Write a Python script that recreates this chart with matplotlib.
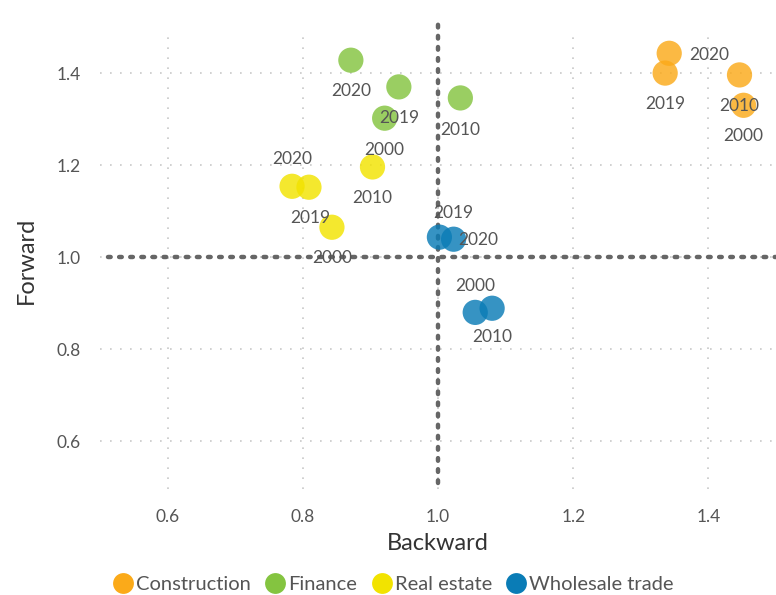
import matplotlib
matplotlib.use("Agg")
import matplotlib.pyplot as plt
from matplotlib.lines import Line2D

plt.rcParams['font.family'] = ['Lato', 'DejaVu Sans']

sectors = ["Construction", "Finance", "Real estate", "Wholesale trade"]
colors = ["#FBAA19", "#84C440", "#F2E300", "#0A7CB6"]
years = ["2000", "2010", "2019", "2020"]

backward = {
    "Construction": [1.452, 1.446, 1.336, 1.342],
    "Finance": [0.921, 1.033, 0.942, 0.871],
    "Real estate": [0.843, 0.903, 0.809, 0.784],
    "Wholesale trade": [1.055, 1.080, 1.002, 1.023],
}
forward = {
    "Construction": [1.330, 1.396, 1.400, 1.443],
    "Finance": [1.302, 1.346, 1.370, 1.428],
    "Real estate": [1.065, 1.196, 1.152, 1.154],
    "Wholesale trade": [0.880, 0.889, 1.0435, 1.039],
}
# label offsets in pixels (dx, dy) per sector / year
offsets = {
    "Construction": [(0, -31), (0, -31), (0, -31), (40, -2)],
    "Finance": [(0, -32), (0, -32), (0, -31), (0, -31)],
    "Real estate": [(0, -31), (0, -31), (1, -31), (0, 27)],
    "Wholesale trade": [(0, 26), (0, -29), (14, 24), (25, -1)],
}

fig = plt.figure(figsize=(7.76, 5.95), dpi=100)
ax = fig.add_axes([0.129, 0.178, 0.871, 0.768])

ax.set_xlim(0.5, 1.5)
ax.set_ylim(0.496, 1.489)
ax.set_xticks([0.6, 0.8, 1.0, 1.2, 1.4])
ax.set_yticks([0.6, 0.8, 1.0, 1.2, 1.4])
ax.set_xticklabels(["0.6", "0.8", "1.0", "1.2", "1.4"])
ax.set_yticklabels(["0.6", "0.8", "1.0", "1.2", "1.4"])
ax.grid(True, color="#c8c8c8", linestyle=(0, (1, 5)), linewidth=1.2)
for s in ax.spines.values():
    s.set_visible(False)
ax.tick_params(length=0, labelsize=12.5, labelcolor="#555555", pad=14)

dot = dict(color="#666666", linewidth=3.2, linestyle=(0, (0.6, 1.9)),
           dash_capstyle="round", zorder=2, clip_on=False)
ax.plot([1.0, 1.0], [0.51, 1.515], **dot)
ax.plot([0.512, 1.5], [1.0, 1.0], **dot)

for sec, col in zip(sectors, colors):
    xs, ys = backward[sec], forward[sec]
    ax.scatter(xs, ys, s=330, color=col, alpha=0.82, edgecolors="none", zorder=3)
    for x, y, yr, (dx, dy) in zip(xs, ys, years, offsets[sec]):
        ax.annotate(yr, (x, y), xytext=(dx * 0.72, dy * 0.72), textcoords="offset points",
                    ha="center", va="center", fontsize=12.5, color="#555555", zorder=4)

ax.set_xlabel("Backward", fontsize=17, color="#333333", labelpad=6)
ax.set_ylabel("Forward", fontsize=17, color="#333333", labelpad=14)

handles = [Line2D([], [], marker="o", linestyle="none", markersize=15,
                  markerfacecolor=c, markeredgecolor="none") for c in colors]
fig.legend(handles, sectors, loc="center", bbox_to_anchor=(0.507, 0.018), ncol=4,
           frameon=False, fontsize=14.5, handlelength=1.0, handletextpad=0.15,
           columnspacing=0.7, labelcolor="#555555")

fig.savefig("out.png", dpi=100)
